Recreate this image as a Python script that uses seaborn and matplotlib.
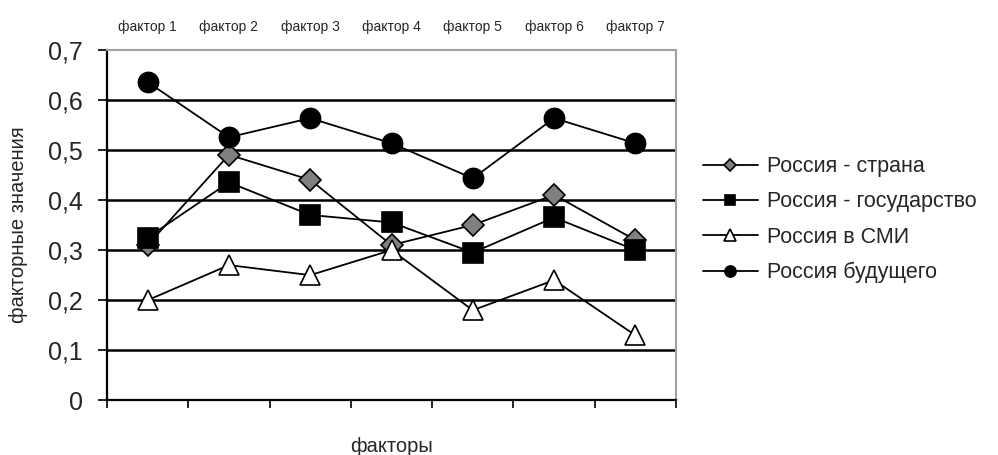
import matplotlib
matplotlib.use("Agg")
import matplotlib.pyplot as plt
from matplotlib.ticker import FixedLocator, FuncFormatter
import seaborn as sns
import pandas as pd

factors = ["фактор 1", "фактор 2", "фактор 3", "фактор 4", "фактор 5", "фактор 6", "фактор 7"]
russia_country = [0.31, 0.49, 0.44, 0.31, 0.35, 0.41, 0.32]
russia_state = [0.325, 0.435, 0.37, 0.355, 0.295, 0.365, 0.30]
russia_media = [0.20, 0.27, 0.25, 0.30, 0.18, 0.24, 0.13]
russia_future = [0.635, 0.525, 0.563, 0.513, 0.443, 0.563, 0.513]
series_names = ["Россия - страна", "Россия - государство", "Россия в СМИ", "Россия будущего"]
y_ticks = [0, 0.1, 0.2, 0.3, 0.4, 0.5, 0.6, 0.7]

sns.set_theme(style="white")
plt.rcParams["font.family"] = ["Liberation Sans", "DejaVu Sans"]

df = pd.DataFrame({
    "фактор": factors * 4,
    "значение": russia_country + russia_state + russia_media + russia_future,
    "серия": sum([[n] * len(factors) for n in series_names], []),
})

styles = {
    "Россия - страна": dict(marker="D", markersize=11, markerfacecolor="#808080"),
    "Россия - государство": dict(marker="s", markersize=14, markerfacecolor="black"),
    "Россия в СМИ": dict(marker="^", markersize=15, markerfacecolor="white"),
    "Россия будущего": dict(marker="o", markersize=14.5, markerfacecolor="black"),
}

fig = plt.figure(figsize=(9.98, 4.55), dpi=100)
ax = fig.add_axes([0.1072, 0.1198, 0.5702, 0.7714])

for name in series_names:
    sub = df[df["серия"] == name]
    sns.lineplot(data=sub, x="фактор", y="значение", ax=ax, color="black",
                 linewidth=1.3, markeredgecolor="black", markeredgewidth=1.2,
                 label=name, sort=False, **styles[name])

ax.set_xlim(-0.5, len(factors) - 0.5)
ax.set_ylim(0, 0.7)

# horizontal gridlines
ax.set_yticks(y_ticks)
ax.yaxis.set_major_formatter(FuncFormatter(lambda v, p: ("%g" % round(v, 2)).replace(".", ",")))
for v in y_ticks[1:-1]:
    ax.axhline(v, color="black", linewidth=1.8, zorder=0)
ax.tick_params(axis="y", which="major", direction="out", length=6.5, width=1.2,
               color="black", labelsize=18, pad=11, left=True)

# category boundaries as ticks, factor names on top
ax.xaxis.set_major_locator(FixedLocator([i - 0.5 for i in range(len(factors) + 1)]))
ax.xaxis.set_minor_locator(FixedLocator(list(range(len(factors)))))
ax.set_xticklabels([""] * (len(factors) + 1))
ax.set_xticklabels(factors, minor=True)
ax.tick_params(axis="x", which="major", direction="out", length=6, width=1.2,
               color="black", bottom=True, top=False, labelbottom=False)
ax.tick_params(axis="x", which="minor", length=0, bottom=False, top=False,
               labelbottom=False, labeltop=True, labelsize=10, pad=11)

for side in ["left", "bottom"]:
    ax.spines[side].set_color("black")
    ax.spines[side].set_linewidth(1.6)
for side in ["top", "right"]:
    ax.spines[side].set_color("#a0a0a0")
    ax.spines[side].set_linewidth(1.5)

ax.set_xlabel("факторы", fontsize=14.5, labelpad=20)
ax.set_ylabel("факторные значения", fontsize=14.5)
ax.yaxis.set_label_coords(-0.138, 0.5)

leg = ax.legend(loc="center left", bbox_to_anchor=(1.013, 0.515), frameon=False,
                fontsize=15.5, handlelength=2.55, markerscale=0.55, labelspacing=0.66,
                handletextpad=0.42)

fig.savefig("out.png", dpi=100, facecolor="white")
